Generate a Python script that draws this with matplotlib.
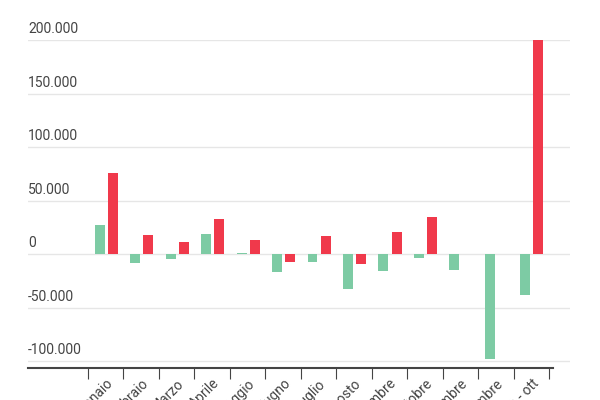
import numpy as np
import matplotlib.pyplot as plt

plt.rcParams['font.family'] = ['Roboto', 'DejaVu Sans']

mesi = ['Gennaio', 'Febbraio', 'Marzo', 'Aprile', 'Maggio', 'Giugno', 'Luglio',
        'Agosto', 'Settembre', 'Ottobre', 'Novembre', 'Dicembre', 'gen - ott']
verde = [27000, -8000, -5000, 19000, 1000, -17000, -7000, -33000, -16000, -4000, -15000, -98000, -38000]
rosso = [76000, 18000, 11000, 33000, 13000, -7000, 17000, -9000, 21000, 35000, 0, 0, 200000]

fig = plt.figure(figsize=(6, 4), dpi=100)
ax = fig.add_axes([28 / 600, 32 / 400, 542 / 600, 328 / 400])
x = np.arange(len(mesi))
ax.bar(x - 0.17, verde, width=0.28, color='#7dcba4', zorder=3)
ax.bar(x + 0.2, rosso, width=0.28, color='#f0394b', zorder=3)

ax.set_xlim(-2.19, 13.09)
ax.set_ylim(-106500, 200000)
for v in [-100000, -50000, 0, 50000, 100000, 150000, 200000]:
    ax.axhline(v, color='#e6e6e6', lw=1, zorder=1)
    ax.text(0, v + 3500, f'{v:,.0f}'.replace(',', '.'), transform=ax.get_yaxis_transform(),
            fontsize=10, color='#444444', va='bottom', ha='left')
ax.set_yticks([])

ax.set_xticks(np.arange(-0.5, 13, 1))
ax.set_xticklabels([])
ax.set_xticks(x, minor=True)
ax.set_xticklabels(mesi, minor=True, rotation=45, ha='right', rotation_mode='anchor',
                   fontsize=10, color='#444444')
ax.tick_params(axis='x', which='major', length=8, color='#444444')
ax.tick_params(axis='x', which='minor', length=0, pad=6)
for s in ['top', 'right', 'left']:
    ax.spines[s].set_visible(False)
ax.spines['bottom'].set_color('#444444')
ax.spines['bottom'].set_linewidth(1.5)
ax.spines['bottom'].set_bounds(-2.19, 12.6)

fig.savefig('out.png', dpi=100)
